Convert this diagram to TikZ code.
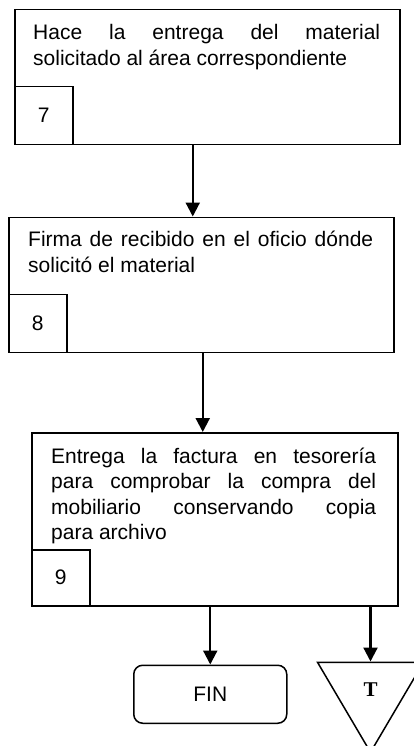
\documentclass[tikz,border=0pt]{standalone}
\usepackage{fontspec}
\setmainfont{Liberation Sans}
\newfontfamily\tfont{Liberation Serif}
\usetikzlibrary{arrows.meta, positioning, shapes.geometric}
\hyphenpenalty=10000
\exhyphenpenalty=10000
\tikzset{
  stepbox/.style={rectangle,draw=black,line width=1.5pt,inner sep=0pt},
  numbox/.style={rectangle,draw=black,line width=1.5pt,minimum size=58pt,anchor=south west,
    inner sep=0pt,font=\fontsize{21}{25}\selectfont},
  steptext/.style={anchor=base west,inner sep=0pt,align=justify,font=\fontsize{21}{25.5}\selectfont},
  endbox/.style={rectangle,rounded corners=9pt,draw=black,line width=1.5pt,minimum width=153pt,
    minimum height=58pt,font=\fontsize{21}{25}\selectfont},
  pagenode/.style={isosceles triangle,isosceles triangle stretches,shape border rotate=270,
    draw=black,line width=1.5pt,minimum width=106pt,minimum height=90pt,inner sep=0pt,
    font=\tfont\bfseries\fontsize{21}{25}\selectfont},
  arr/.style={-{Triangle[length=14pt,width=14pt]},line width=2.2pt}
}
\begin{document}
\begin{tikzpicture}[x=1pt,y=-1pt]
  \path[use as bounding box,clip] (0,0) rectangle (414,746);

  %% Step 7
  \node[stepbox,anchor=north west,minimum width=385pt,minimum height=135pt] (act7) at (14,9) {};
  \node[steptext,text width=347pt] (act7txt) at ([shift={(19pt,-31pt)}]act7.north west)
    {Hace la entrega del material\linebreak solicitado al área correspondiente};
  \node[numbox] (num7) at (act7.south west) {7};

  %% Step 8
  \node[stepbox,below=71pt of act7.south west,anchor=north west,xshift=-6pt,
        minimum width=385pt,minimum height=135pt] (act8) {};
  \node[steptext,text width=345pt] (act8txt) at ([shift={(20pt,-30pt)}]act8.north west)
    {Firma de recibido en el oficio dónde\linebreak solicitó el material};
  \node[numbox] (num8) at (act8.south west) {8};

  %% Step 9
  \node[stepbox,below=79pt of act8.south west,anchor=north west,xshift=23pt,
        minimum width=366pt,minimum height=173pt] (act9) {};
  \node[steptext,text width=325pt] (act9txt) at ([shift={(20pt,-31pt)}]act9.north west)
    {Entrega la factura en tesorería\linebreak para comprobar la compra del\linebreak
     mobiliario conservando copia\linebreak para archivo};
  \node[numbox,minimum height=56pt] (num9) at (act9.south west) {9};

  %% End and off-page connector
  \node[endbox,below=58pt of act9.south,anchor=north,xshift=-4.5pt] (fin) {FIN};
  \node[pagenode,below=55pt of act9.south east,anchor=north,xshift=-28pt] (tmark) {\raisebox{4pt}{T}};

  %% Connectors
  \draw[arr] ([xshift=-14.5pt]act7.south) -- ([xshift=-14.5pt]act7.south |- act8.north);
  \draw[arr] ([xshift=1.5pt]act8.south) -- ([xshift=1.5pt]act8.south |- act9.north);
  \draw[arr] (act9.south -| fin.north) -- (fin.north);
  \draw[arr] (act9.south -| tmark.north) -- (tmark.north);
\end{tikzpicture}
\end{document}
